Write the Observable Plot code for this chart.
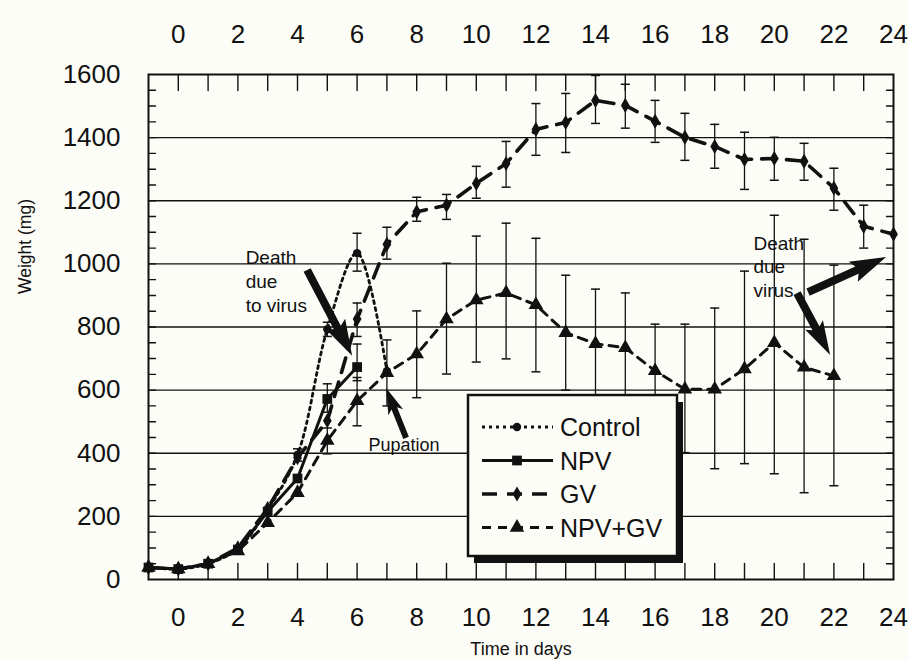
<!DOCTYPE html>
<html>
<head>
<meta charset="utf-8">
<script src="https://cdn.jsdelivr.net/npm/d3@7"></script>
<script src="https://cdn.jsdelivr.net/npm/@observablehq/plot@0.6"></script>
<style>
html, body { margin: 0; padding: 0; background: #fdfdf7; }
#chart svg { display: block; }
</style>
</head>
<body>
<div id="chart"></div>
<script>
// ---------- data ----------
const dayTicks = [0, 2, 4, 6, 8, 10, 12, 14, 16, 18, 20, 22, 24];
const weightTicks = [0, 200, 400, 600, 800, 1000, 1200, 1400, 1600];
const gridWeights = [200, 400, 600, 800, 1000, 1200, 1400];
const dayTickMarks = [0, 1, 2, 3, 4, 5, 6, 7, 8, 9, 10, 11, 12, 13, 14, 15, 16, 17, 18, 19, 20, 21, 22, 23];
const weightTickMarks = [50, 100, 150, 200, 250, 300, 350, 400, 450, 500, 550, 600, 650, 700, 750, 800,
  850, 900, 950, 1000, 1050, 1100, 1150, 1200, 1250, 1300, 1350, 1400, 1450, 1500, 1550];

const seriesNames = ["Control", "NPV", "GV", "NPV+GV"];

const controlDays = [-1, 0, 1, 2, 3, 4, 5, 6, 7];
const controlWeight = [38, 33, 50, 98, 222, 395, 793, 1034, 660];

const npvDays = [-1, 0, 1, 2, 3, 4, 5, 6];
const npvWeight = [38, 33, 50, 95, 215, 320, 572, 673];

const gvDays = [-1, 0, 1, 2, 3, 4, 5, 6, 7, 8, 9, 10, 11, 12, 13, 14, 15, 16, 17, 18, 19, 20, 21, 22, 23, 24];
const gvWeight = [38, 33, 50, 100, 225, 386, 503, 825, 1062, 1165, 1186, 1255, 1318, 1426, 1448, 1518, 1502,
  1452, 1401, 1372, 1331, 1334, 1325, 1240, 1119, 1094];

const npvGvDays = [-1, 0, 1, 2, 3, 4, 5, 6, 7, 8, 9, 10, 11, 12, 13, 14, 15, 16, 17, 18, 19, 20, 21, 22];
const npvGvWeight = [38, 33, 50, 90, 180, 275, 440, 566, 655, 714, 825, 885, 908, 870, 782, 747, 734,
  661, 603, 603, 667, 750, 672, 645];

// error bars (low / high)
const controlErrDays = [4, 5, 6];
const controlErrLow = [375, 770, 977];
const controlErrHigh = [414, 815, 1097];

const npvErrDays = [5, 6];
const npvErrLow = [530, 630];
const npvErrHigh = [620, 746];

const gvErrDays = [6, 7, 8, 9, 10, 11, 12, 13, 14, 15, 16, 17, 18, 19, 20, 21, 22, 23];
const gvErrLow = [770, 1015, 1135, 1141, 1208, 1243, 1344, 1353, 1445, 1430, 1385, 1328, 1303, 1236, 1265, 1265, 1170, 1050];
const gvErrHigh = [876, 1116, 1211, 1220, 1309, 1388, 1508, 1540, 1597, 1569, 1518, 1477, 1442, 1417, 1401, 1382, 1303, 1186];

const npvGvErrDays = [5, 6, 7, 8, 9, 10, 11, 12, 13, 14, 15, 16, 17, 18, 19, 20, 21, 22];
const npvGvErrLow = [398, 487, 550, 576, 651, 689, 699, 658, 600, 574, 560, 513, 402, 351, 367, 335, 275, 297];
const npvGvErrHigh = [480, 640, 759, 851, 1002, 1088, 1129, 1081, 964, 920, 908, 809, 809, 860, 977, 1154, 1078, 996];

// annotations
const noteText = ["Death\ndue\nto virus", "Pupation", "Death\ndue\nvirus"];
const noteDay = [2.26, 6.38, 19.3];
const noteWeight = [1052, 425, 1099];

const arrowFromDay = [4.34, 7.66, 21.15, 20.78];
const arrowFromWeight = [979, 447, 909, 906];
const arrowToDay = [5.85, 6.99, 23.77, 21.89];
const arrowToWeight = [707, 605, 1020, 710];

// ---------- tables built from the arrays ----------
const table = (days, w) => days.map((d, i) => ({day: d, w: w[i]}));
const errTable = (days, lo, hi) => days.map((d, i) => ({day: d, lo: lo[i], hi: hi[i]}));

const controlData = table(controlDays, controlWeight);
const npvData = table(npvDays, npvWeight);
const gvData = table(gvDays, gvWeight);
const npvGvData = table(npvGvDays, npvGvWeight);

const errData = [
  ...errTable(controlErrDays, controlErrLow, controlErrHigh),
  ...errTable(npvErrDays, npvErrLow, npvErrHigh),
  ...errTable(gvErrDays, gvErrLow, gvErrHigh),
  ...errTable(npvGvErrDays, npvGvErrLow, npvGvErrHigh)
];

const notes = noteText.map((t, i) => ({text: t, day: noteDay[i], w: noteWeight[i]}));
const arrows = arrowFromDay.map((d, i) => ({x1: d, y1: arrowFromWeight[i], x2: arrowToDay[i], y2: arrowToWeight[i]}));

// ---------- styles ----------
const INK = "#111";
const BG = "#fdfdf7";
const FONT = "'Liberation Sans', Arial, sans-serif";
const styles = {
  "Control": {dash: "3,4", width: 2.8, symbol: "circle", d3symbol: d3.symbolCircle, r: 4.2, curve: "catmull-rom"},
  "NPV": {dash: null, width: 3, symbol: "square", d3symbol: d3.symbolSquare, r: 5.5, curve: "linear"},
  "GV": {dash: "15,10", width: 3.6, symbol: "diamond", d3symbol: d3.symbolDiamond, r: 4.6, curve: "linear"},
  "NPV+GV": {dash: "9,7", width: 3, symbol: "triangle", d3symbol: d3.symbolTriangle, r: 5.4, curve: "linear"}
};
const arrowSizes = [
  {shaft: 8, headW: 22, headL: 32},
  {shaft: 6, headW: 16, headL: 22},
  {shaft: 8, headW: 22, headL: 32},
  {shaft: 8, headW: 20, headL: 30}
];

const capSymbol = {
  draw(ctx, size) {
    const r = Math.sqrt(size / Math.PI);
    ctx.moveTo(-r, 0);
    ctx.lineTo(r, 0);
  }
};
const tickShape = {
  draw(ctx, l) {
    ctx.moveTo(0, 0);
    ctx.lineTo(0, -l);
  }
};

function arrowPath(x0, y0, x1, y1, s) {
  const dx = x1 - x0, dy = y1 - y0, L = Math.hypot(dx, dy);
  const ux = dx / L, uy = dy / L, px = -uy, py = ux;
  const bx = x1 - ux * s.headL, by = y1 - uy * s.headL;
  const pts = [
    [x0 + px * s.shaft / 2, y0 + py * s.shaft / 2],
    [bx + px * s.shaft / 2, by + py * s.shaft / 2],
    [bx + px * s.headW / 2 - ux * 4, by + py * s.headW / 2 - uy * 4],
    [x1, y1],
    [bx - px * s.headW / 2 - ux * 4, by - py * s.headW / 2 - uy * 4],
    [bx - px * s.shaft / 2, by - py * s.shaft / 2],
    [x0 - px * s.shaft / 2, y0 - py * s.shaft / 2]
  ];
  return "M" + pts.map(p => p.join(",")).join("L") + "Z";
}

function arrowMark(index, scales) {
  const g = d3.create("svg:g");
  arrows.forEach((a, i) => {
    g.append("path")
      .attr("d", arrowPath(scales.x(a.x1), scales.y(a.y1), scales.x(a.x2), scales.y(a.y2), arrowSizes[i]))
      .attr("fill", INK);
  });
  return g.node();
}

function legendMark() {
  const g = d3.create("svg:g");
  const x0 = 468, y0 = 395, w = 209, h = 161;
  g.append("rect").attr("x", x0 + 6).attr("y", y0 + 7).attr("width", w).attr("height", h).attr("fill", INK);
  g.append("rect").attr("x", x0).attr("y", y0).attr("width", w).attr("height", h)
    .attr("fill", BG).attr("stroke", INK).attr("stroke-width", 2.5);
  seriesNames.forEach((name, i) => {
    const st = styles[name];
    const y = 427 + i * 33.5;
    g.append("line").attr("x1", 482).attr("x2", 553).attr("y1", y).attr("y2", y)
      .attr("stroke", INK).attr("stroke-width", st.width)
      .attr("stroke-dasharray", st.dash);
    g.append("path").attr("transform", `translate(517,${y})`)
      .attr("d", d3.symbol().type(st.d3symbol).size(Math.PI * st.r * st.r)())
      .attr("fill", INK);
    g.append("text").attr("x", 560).attr("y", y).attr("dy", "0.36em")
      .attr("text-anchor", "start")
      .attr("font-size", 25).attr("font-family", FONT).attr("fill", INK)
      .text(name);
  });
  return g.node();
}

const seriesData = {"Control": controlData, "NPV": npvData, "GV": gvData, "NPV+GV": npvGvData};

const lineMarks = seriesNames.map(name => Plot.line(seriesData[name], {
  x: "day", y: "w", stroke: INK, strokeWidth: styles[name].width,
  strokeDasharray: styles[name].dash, curve: styles[name].curve
}));
const dotMarks = seriesNames.map(name => Plot.dot(seriesData[name], {
  x: "day", y: "w", symbol: styles[name].symbol, r: styles[name].r, fill: INK, stroke: "none"
}));

const chart = Plot.plot({
  width: 909,
  height: 660,
  marginLeft: 148,
  marginRight: 16,
  marginTop: 74,
  marginBottom: 81,
  x: {domain: [-1, 24]},
  y: {domain: [0, 1600]},
  style: {background: BG, color: INK, fontFamily: FONT},
  marks: [
    Plot.ruleY(gridWeights, {stroke: INK, strokeWidth: 1.4}),
    Plot.ruleX(errData, {x: "day", y1: "lo", y2: "hi", stroke: INK, strokeWidth: 1.3}),
    Plot.dot(errData, {x: "day", y: "lo", symbol: capSymbol, r: 4.5, stroke: INK, fill: "none", strokeWidth: 1.5}),
    Plot.dot(errData, {x: "day", y: "hi", symbol: capSymbol, r: 4.5, stroke: INK, fill: "none", strokeWidth: 1.5}),
    ...lineMarks,
    ...dotMarks,
    // inward tick marks
    Plot.vector(dayTickMarks, {x: d => d, y: () => 0, length: 16, rotate: 0, anchor: "start", shape: tickShape, stroke: INK, strokeWidth: 1.4}),
    Plot.vector(dayTickMarks, {x: d => d, y: () => 1600, length: 16, rotate: 180, anchor: "start", shape: tickShape, stroke: INK, strokeWidth: 1.4}),
    Plot.vector(weightTickMarks, {x: () => -1, y: d => d, length: 7, rotate: 90, anchor: "start", shape: tickShape, stroke: INK, strokeWidth: 1.4}),
    Plot.vector(weightTickMarks, {x: () => 24, y: d => d, length: 7, rotate: -90, anchor: "start", shape: tickShape, stroke: INK, strokeWidth: 1.4}),
    legendMark,
    Plot.text([notes[0], notes[2]], {x: "day", y: "w", text: "text", textAnchor: "start", lineAnchor: "top",
      fontSize: 19, lineHeight: 1.25, fill: INK}),
    Plot.text([notes[1]], {x: "day", y: "w", text: "text", textAnchor: "start", lineAnchor: "middle",
      fontSize: 18, fill: INK}),
    arrowMark,
    Plot.axisX({anchor: "top", ticks: dayTicks, tickSize: 0, tickPadding: 32, fontSize: 26, label: null, tickFormat: d => String(d)}),
    Plot.axisX({anchor: "bottom", ticks: dayTicks, tickSize: 0, tickPadding: 28, fontSize: 26, label: null, tickFormat: d => String(d)}),
    Plot.axisY({anchor: "left", ticks: weightTicks, tickSize: 0, tickPadding: 28, fontSize: 26, label: null, tickFormat: d => String(d)}),
    Plot.text(["Time in days"], {frameAnchor: "bottom", dy: 70, text: d => d, fontSize: 18, lineAnchor: "middle", fill: INK}),
    Plot.text(["Weight (mg)"], {frameAnchor: "left", dx: -123, dy: -33, rotate: -90, text: d => d, fontSize: 17.5, lineAnchor: "middle", fill: INK}),
    Plot.frame({stroke: INK, strokeWidth: 2})
  ]
});

document.getElementById("chart").appendChild(chart);
</script>
</body>
</html>
